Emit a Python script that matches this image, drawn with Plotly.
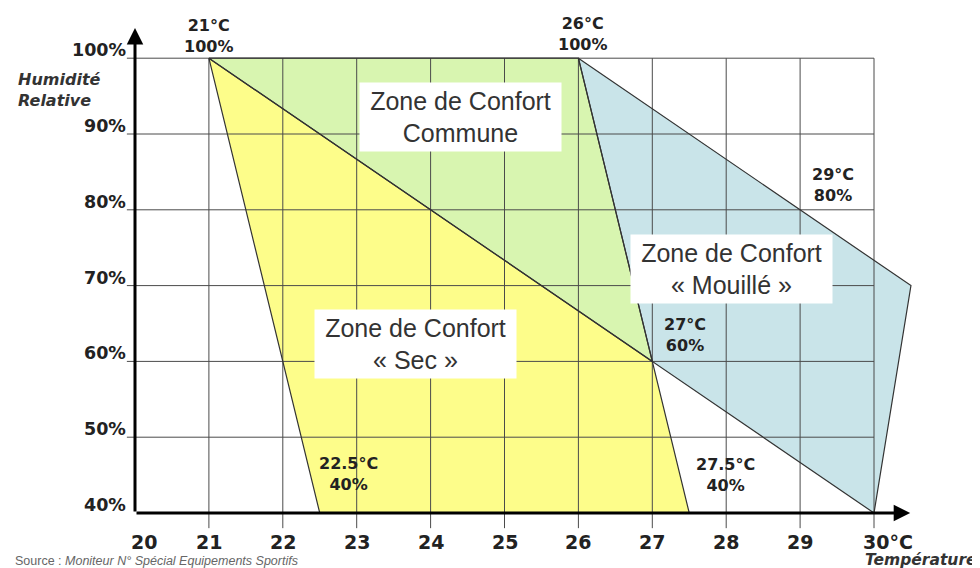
import plotly.graph_objects as go

# ---- data ----
temp_ticks = [20, 21, 22, 23, 24, 25, 26, 27, 28, 29, 30]
temp_labels = ["20", "21", "22", "23", "24", "25", "26", "27", "28", "29", "30°C"]
hum_ticks = [40, 50, 60, 70, 80, 90, 100]
hum_labels = ["40%", "50%", "60%", "70%", "80%", "90%", "100%"]

sec_t = [21, 27, 27.5, 22.5]
sec_h = [100, 60, 40, 40]
commune_t = [21, 26, 27]
commune_h = [100, 100, 60]
mouille_t = [26, 30.5, 30, 27]
mouille_h = [100, 70, 40, 60]

point_t = [21, 26, 29, 27, 22.5, 27.5]
point_h = [100, 100, 80, 60, 40, 40]
point_labels = ["21°C<br>100%", "26°C<br>100%", "29°C<br>80%", "27°C<br>60%",
                "22.5°C<br>40%", "27.5°C<br>40%"]

zone_labels = ["Zone de Confort<br>Commune", "Zone de Confort<br>« Mouillé »",
               "Zone de Confort<br>« Sec »"]

# ---- style ----
YELLOW = "#fdfd8a"
GREEN = "#d8f5b0"
BLUE = "#c9e4e9"
GRID = "#4a4a4a"
EDGE = "#333333"
SMALL_FONT = "DejaVu Sans"
BIG_FONT = "Liberation Sans, Arial"

# page has an 8px body margin: figure is drawn 8px right/down
OFF = 8
W, H = 980 - OFF, 568 - OFF

def px(sx):   # screen x -> paper x
    return (sx - OFF) / W

def py(sy):   # screen y -> paper y
    return (568 - sy) / H

fig = go.Figure()

def poly(t, h, color):
    fig.add_trace(go.Scatter(
        x=t + [t[0]], y=h + [h[0]], mode="lines", fill="toself",
        fillcolor=color, line=dict(width=0), hoverinfo="skip"))

poly(sec_t, sec_h, YELLOW)
poly(commune_t, commune_h, GREEN)
poly(mouille_t, mouille_h, BLUE)

# grid lines (drawn on top of fills)
gx, gy = [], []
for t in temp_ticks[1:]:
    gx += [t, t, None]
    gy += [hum_ticks[0] - 2.0, hum_ticks[-1], None]
for h in hum_ticks[1:]:
    gx += [temp_ticks[0] - 0.11, temp_ticks[-1], None]
    gy += [h, h, None]
fig.add_trace(go.Scatter(x=gx, y=gy, mode="lines",
                         line=dict(color=GRID, width=1), hoverinfo="skip"))

# polygon outlines
for t, h in [(sec_t, sec_h), (commune_t, commune_h), (mouille_t, mouille_h)]:
    fig.add_trace(go.Scatter(x=t + [t[0]], y=h + [h[0]], mode="lines",
                             line=dict(color=EDGE, width=1.2), hoverinfo="skip"))

ann = []
# axes with arrows
ann.append(dict(x=30.49, y=40, ax=20, ay=40, xref="x", yref="y", axref="x", ayref="y",
                text="", showarrow=True, arrowhead=2, arrowsize=1.1, arrowwidth=3,
                arrowcolor="black"))
ann.append(dict(x=20, y=104.0, ax=20, ay=40, xref="x", yref="y", axref="x", ayref="y",
                text="", showarrow=True, arrowhead=2, arrowsize=1.1, arrowwidth=3,
                arrowcolor="black"))

# x tick labels
for t, lab in zip(temp_ticks, temp_labels):
    d = dict(x=t, y=40, xref="x", yref="y", text="<b>" + lab + "</b>", showarrow=False,
             xanchor="center", yanchor="middle", yshift=-29,
             font=dict(family=SMALL_FONT, size=19, color="#222"))
    if t == temp_ticks[0]:
        d["xshift"] = 9
    if t == temp_ticks[-1]:
        d["xanchor"] = "left"
        d["xshift"] = -13
    ann.append(d)

# y tick labels
for h, lab in zip(hum_ticks, hum_labels):
    ann.append(dict(x=20, y=h, xref="x", yref="y", text="<b>" + lab + "</b>",
                    showarrow=False, xanchor="right", yanchor="middle",
                    xshift=-7, yshift=8,
                    font=dict(family=SMALL_FONT, size=17.5, color="#222")))

# vertex labels
shifts = [(0, 22), (4, 24), (33, 25), (33, 26), (29, 39), (36, 38)]
for t, h, lab, (dx, dy) in zip(point_t, point_h, point_labels, shifts):
    ann.append(dict(x=t, y=h, xref="x", yref="y", text="<b>" + lab + "</b>",
                    showarrow=False, xanchor="center", yanchor="middle",
                    xshift=dx, yshift=dy,
                    font=dict(family=SMALL_FONT, size=16, color="#222")))

# zone labels with white boxes
zone_pos = [(24.40, 92.2), (28.07, 72.2), (23.80, 62.3)]
for (t, h), lab in zip(zone_pos, zone_labels):
    ann.append(dict(x=t, y=h, xref="x", yref="y", text=lab, showarrow=False,
                    xanchor="center", yanchor="middle", bgcolor="white",
                    width=195, height=62, borderpad=3,
                    font=dict(family=BIG_FONT, size=25, color="#333")))

# axis titles
ann.append(dict(x=px(16), y=py(89.5), xref="paper", yref="paper",
                text="<b><i>Humidité<br>Relative</i></b>", showarrow=False,
                xanchor="left", yanchor="middle", align="left",
                font=dict(family=SMALL_FONT, size=16, color="#333")))
ann.append(dict(x=px(979), y=py(560), xref="paper", yref="paper",
                text="<b><i>Température</i></b>", showarrow=False,
                xanchor="right", yanchor="middle",
                font=dict(family=SMALL_FONT, size=15.5, color="#333")))
ann.append(dict(x=px(13), y=py(561), xref="paper", yref="paper",
                text="Source : <i>Moniteur N° Spécial Equipements Sportifs</i>",
                showarrow=False, xanchor="left", yanchor="middle",
                font=dict(family=BIG_FONT, size=12.5, color="#666")))

# axis ranges mapped so that 20..30 °C spans screen x 135..874
# and 40..100 % spans screen y 513..58
XS, YS = 73.9, 7.58
fig.update_layout(
    width=W, height=H,
    margin=dict(l=0, r=0, t=0, b=0),
    paper_bgcolor="white", plot_bgcolor="white",
    showlegend=False,
    xaxis=dict(range=[20 - (135 - OFF) / XS, 20 + (980 - 135) / XS],
               visible=False, fixedrange=True),
    yaxis=dict(range=[40 - (568 - 513) / YS, 40 + (513 - OFF) / YS],
               visible=False, fixedrange=True),
    annotations=ann,
)

fig.write_html("out.html")
